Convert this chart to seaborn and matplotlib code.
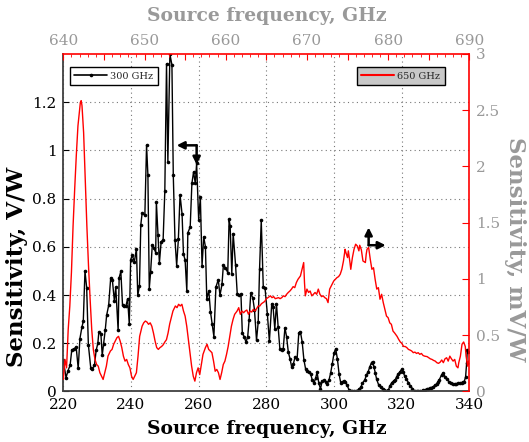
import matplotlib
matplotlib.use("Agg")
import matplotlib.pyplot as plt
import seaborn as sns
from matplotlib.lines import Line2D
from matplotlib.ticker import MultipleLocator

# ---- 300 GHz detector (bottom / left axes) ----
freq_300 = [220.0, 220.8, 221.4, 222.0, 222.5, 223.2, 223.8, 224.4, 224.9, 225.5, 225.9, 226.4, 226.9, 227.4,
            228.1, 228.6, 229.2, 229.7, 230.2, 230.5, 231.1, 231.5, 231.9, 232.4, 232.8, 233.4, 234.0, 234.5,
            235.1, 235.5, 236.2, 236.5, 237.0, 237.5, 238.0, 238.5, 239.0, 239.5, 239.9, 240.4, 241.0, 241.6,
            242.0, 242.5, 242.9, 243.3, 244.1, 244.6, 245.0, 245.4, 245.8, 246.3, 246.8, 247.3, 247.5, 248.0,
            248.4, 248.9, 249.5, 250.0, 250.5, 250.9, 251.5, 252.1, 252.5, 253.0, 253.5, 254.0, 254.5, 255.1,
            255.5, 256.0, 256.5, 256.8, 257.5, 258.0, 258.5, 259.0, 259.4, 260.0, 260.5, 261.0, 261.5, 262.0,
            262.4, 263.0, 263.5, 264.0, 264.5, 265.1, 265.8, 266.3, 266.9, 267.3, 267.9, 268.6, 269.0, 269.3,
            269.8, 270.2, 270.9, 271.4, 272.0, 272.5, 272.9, 273.4, 274.0, 274.5, 274.9, 275.4, 276.0, 276.5,
            277.1, 277.6, 278.0, 278.5, 279.1, 279.6, 280.3, 280.9, 281.6, 282.0, 282.5, 283.0, 283.5, 284.0,
            284.5, 285.0, 285.5, 286.0, 286.5, 287.0, 287.5, 288.0, 288.5, 289.1, 289.6, 290.1, 290.6, 291.1,
            291.6, 292.1, 292.6, 293.1, 293.6, 294.1, 294.6, 295.0, 295.5, 296.0, 296.5, 297.0, 297.5, 298.0,
            298.5, 299.0, 299.5, 300.0, 300.5, 301.0, 301.5, 302.0, 302.4, 302.9, 303.4, 303.9, 304.4, 304.9,
            305.4, 305.9, 306.5, 306.9, 307.4, 307.9, 308.4, 309.1, 309.6, 310.1, 310.6, 311.1, 311.4, 311.8,
            312.2, 312.6, 313.2, 313.8, 314.4, 314.9, 315.5, 316.1, 316.5, 317.1, 317.7, 318.1, 318.5, 319.0,
            319.5, 320.0, 320.4, 320.9, 321.4, 322.0, 322.6, 323.2, 323.8, 324.4, 324.9, 325.4, 325.9, 326.4,
            326.9, 327.4, 327.9, 328.3, 328.8, 329.3, 329.8, 330.3, 330.7, 331.1, 331.8, 332.3, 332.8, 333.3,
            334.0, 334.7, 335.2, 335.7, 336.2, 336.7, 337.2, 337.7, 338.1, 338.5, 338.9, 339.2, 339.4, 339.7]
sens_300 = [0.13, 0.057, 0.087, 0.108, 0.173, 0.177, 0.184, 0.096, 0.219, 0.267, 0.291, 0.50, 0.431, 0.194,
            0.098, 0.094, 0.108, 0.170, 0.20, 0.246, 0.24, 0.15, 0.198, 0.256, 0.316, 0.357, 0.471, 0.461,
            0.374, 0.433, 0.253, 0.472, 0.498, 0.357, 0.354, 0.354, 0.385, 0.278, 0.547, 0.565, 0.537, 0.593,
            0.399, 0.437, 0.692, 0.74, 0.731, 1.022, 0.897, 0.427, 0.496, 0.609, 0.595, 0.576, 0.786, 0.648,
            0.533, 0.62, 0.63, 0.832, 1.359, 0.953, 1.40, 1.354, 0.897, 0.63, 0.522, 0.631, 0.816, 0.735,
            0.572, 0.544, 0.417, 0.658, 0.683, 0.863, 0.911, 0.863, 0.946, 0.713, 0.805, 0.522, 0.641, 0.6,
            0.385, 0.417, 0.33, 0.278, 0.228, 0.433, 0.464, 0.399, 0.445, 0.523, 0.514, 0.493, 0.714, 0.687,
            0.489, 0.655, 0.526, 0.406, 0.399, 0.403, 0.244, 0.228, 0.205, 0.228, 0.295, 0.408, 0.388, 0.339,
            0.212, 0.288, 0.508, 0.71, 0.433, 0.431, 0.323, 0.208, 0.364, 0.35, 0.26, 0.364, 0.267, 0.177,
            0.173, 0.177, 0.265, 0.226, 0.163, 0.136, 0.101, 0.115, 0.143, 0.136, 0.244, 0.246, 0.205, 0.132,
            0.094, 0.087, 0.08, 0.073, 0.046, 0.035, 0.057, 0.08, 0.035, 0.011, 0.043, 0.046, 0.039, 0.032,
            0.046, 0.076, 0.115, 0.159, 0.177, 0.136, 0.073, 0.035, 0.039, 0.043, 0.039, 0.025, 0.008, 0.001,
            0.0, 0.0, 0.002, 0.004, 0.01, 0.017, 0.034, 0.048, 0.069, 0.082, 0.103, 0.12, 0.124, 0.103,
            0.076, 0.051, 0.027, 0.017, 0.009, 0.006, 0.003, 0.006, 0.023, 0.037, 0.045, 0.048, 0.061, 0.073,
            0.082, 0.092, 0.082, 0.064, 0.051, 0.037, 0.023, 0.012, 0.003, 0.001, 0.001, 0.002, 0.003, 0.005,
            0.007, 0.009, 0.011, 0.013, 0.016, 0.02, 0.025, 0.031, 0.04, 0.048, 0.069, 0.078, 0.061, 0.051,
            0.041, 0.034, 0.032, 0.031, 0.032, 0.034, 0.035, 0.037, 0.039, 0.041, 0.061, 0.117, 0.172, 0.165]

# ---- 650 GHz detector (top / right axes) ----
freq_650 = [640.0, 640.2, 640.4, 640.6, 640.8, 641.0, 641.2, 641.4, 641.6, 641.8, 642.1, 642.2, 642.3, 642.5,
            642.7, 642.9, 643.1, 643.3, 643.5, 643.7, 643.9, 644.1, 644.3, 644.5, 644.7, 644.9, 645.1, 645.3,
            645.5, 645.8, 646.0, 646.2, 646.4, 646.6, 646.8, 647.0, 647.2, 647.4, 647.6, 647.8, 648.0, 648.2,
            648.4, 648.6, 648.8, 649.0, 649.2, 649.4, 649.7, 649.9, 650.1, 650.3, 650.5, 650.7, 650.9, 651.1,
            651.3, 651.5, 651.7, 651.9, 652.1, 652.3, 652.5, 652.7, 652.9, 653.1, 653.3, 653.5, 653.8, 654.0,
            654.2, 654.4, 654.6, 654.8, 655.0, 655.2, 655.4, 655.6, 655.8, 656.0, 656.2, 656.4, 656.6, 656.8,
            657.0, 657.2, 657.5, 657.7, 657.9, 658.1, 658.3, 658.5, 658.7, 658.9, 659.1, 659.3, 659.5, 659.7,
            659.9, 660.1, 660.3, 660.5, 660.7, 660.9, 661.1, 661.4, 661.6, 661.8, 662.0, 662.2, 662.4, 662.6,
            662.8, 663.0, 663.2, 663.4, 663.6, 663.8, 664.0, 664.2, 664.4, 664.6, 664.8, 665.0, 665.2, 665.5,
            665.7, 665.9, 666.1, 666.3, 666.5, 666.7, 666.9, 667.1, 667.3, 667.5, 667.7, 667.9, 668.1, 668.3,
            668.5, 668.7, 668.9, 669.2, 669.4, 669.6, 669.7, 669.8, 670.0, 670.2, 670.4, 670.6, 670.8, 671.0,
            671.2, 671.4, 671.6, 671.8, 672.0, 672.2, 672.4, 672.6, 672.8, 673.1, 673.3, 673.5, 673.7, 673.9,
            674.1, 674.3, 674.5, 674.7, 674.8, 675.0, 675.1, 675.3, 675.4, 675.6, 675.8, 676.0, 676.2, 676.4,
            676.5, 676.7, 676.9, 677.2, 677.3, 677.4, 677.6, 677.8, 678.0, 678.2, 678.4, 678.6, 678.8, 679.0,
            679.2, 679.4, 679.6, 679.8, 680.0, 680.2, 680.4, 680.6, 680.8, 681.1, 681.3, 681.5, 681.7, 681.9,
            682.1, 682.3, 682.5, 682.7, 682.9, 683.1, 683.3, 683.5, 683.7, 683.9, 684.1, 684.3, 684.5, 684.8,
            685.0, 685.2, 685.4, 685.6, 685.8, 686.0, 686.2, 686.4, 686.6, 686.8, 687.0, 687.2, 687.4, 687.6,
            687.8, 688.0, 688.2, 688.4, 688.6, 688.7, 688.9, 689.1, 689.3, 689.5, 689.6, 689.8, 689.9]
sens_650 = [0.107, 0.285, 0.21, 0.55, 0.76, 1.06, 1.47, 1.80, 2.10, 2.36, 2.57, 2.585, 2.54, 2.30,
            1.89, 1.47, 1.12, 0.82, 0.55, 0.37, 0.285, 0.24, 0.225, 0.167, 0.136, 0.107, 0.167, 0.225,
            0.314, 0.36, 0.374, 0.42, 0.448, 0.478, 0.49, 0.448, 0.39, 0.314, 0.27, 0.285, 0.24, 0.21,
            0.136, 0.107, 0.136, 0.167, 0.314, 0.49, 0.58, 0.61, 0.626, 0.617, 0.597, 0.61, 0.58, 0.52,
            0.448, 0.39, 0.374, 0.39, 0.40, 0.415, 0.44, 0.46, 0.52, 0.60, 0.656, 0.715, 0.76, 0.745,
            0.775, 0.76, 0.775, 0.715, 0.67, 0.58, 0.46, 0.345, 0.225, 0.136, 0.092, 0.167, 0.21, 0.15,
            0.24, 0.33, 0.39, 0.42, 0.374, 0.36, 0.345, 0.27, 0.18, 0.196, 0.167, 0.107, 0.167, 0.24,
            0.27, 0.33, 0.40, 0.49, 0.58, 0.64, 0.686, 0.715, 0.745, 0.686, 0.715, 0.70, 0.715, 0.724,
            0.686, 0.715, 0.706, 0.73, 0.715, 0.736, 0.76, 0.76, 0.78, 0.79, 0.80, 0.825, 0.834, 0.85,
            0.834, 0.843, 0.825, 0.83, 0.834, 0.825, 0.834, 0.85, 0.843, 0.864, 0.88, 0.893, 0.91, 0.932,
            0.923, 0.968, 0.997, 1.027, 1.086, 1.146, 0.968, 0.85, 0.91, 0.88, 0.893, 0.85, 0.864, 0.88,
            0.864, 0.91, 0.864, 0.843, 0.85, 0.834, 0.825, 0.79, 0.91, 0.953, 0.982, 0.997, 1.012, 1.021,
            1.042, 1.086, 1.16, 1.264, 1.235, 1.19, 1.25, 1.146, 1.086, 1.19, 1.264, 1.309, 1.294, 1.25,
            1.30, 1.26, 1.16, 1.146, 1.22, 1.264, 1.28, 1.175, 1.086, 1.10, 0.997, 0.91, 0.923, 0.82,
            0.864, 0.79, 0.73, 0.67, 0.656, 0.61, 0.597, 0.537, 0.52, 0.49, 0.463, 0.44, 0.427, 0.40,
            0.40, 0.39, 0.374, 0.368, 0.36, 0.345, 0.35, 0.338, 0.345, 0.33, 0.338, 0.32, 0.314, 0.31,
            0.30, 0.29, 0.285, 0.276, 0.27, 0.256, 0.25, 0.26, 0.28, 0.256, 0.29, 0.30, 0.27, 0.314,
            0.29, 0.27, 0.285, 0.225, 0.21, 0.256, 0.314, 0.42, 0.44, 0.40, 0.314, 0.225, 0.27]

# ---- ticks / labels ----
bottom_ticks = [220, 240, 260, 280, 300, 320, 340]
left_ticks = [0, 0.2, 0.4, 0.6, 0.8, 1.0, 1.2]
left_labels = ["0", "0.2", "0.4", "0.6", "0.8", "1", "1.2"]
top_ticks = [640, 645, 650, 655, 660, 665, 670, 675, 680, 685, 690]
top_labels = ["640", "", "650", "", "660", "", "670", "", "680", "", "690"]
right_ticks = [0, 0.5, 1.0, 1.5, 2.0, 2.5, 3.0]
right_labels = ["0", "0.5", "1", "1.5", "2", "2.5", "3"]
legend_labels = ["300 GHz", "650 GHz"]
x_label = "Source frequency, GHz"
y_left_label = "Sensitivity, V/W"
y_right_label = "Sensitivity, mV/W"

# annotation arrows (corner, tips)
black_corner = (259.4, 1.021)
black_tips = [(253.5, 1.021), (259.4, 0.941)]
red_corner = (677.6, 1.30)
red_tips = [(677.6, 1.458), (679.7, 1.30)]

GRAY = "#999999"

sns.set_style("white")
plt.rcParams['font.family'] = ['DejaVu Serif']

fig = plt.figure(figsize=(5.29, 4.42), dpi=100)
ax = fig.add_axes([0.1197, 0.1143, 0.7675, 0.7636])
ax2 = ax.twinx()
ax3 = ax2.twiny()

sns.lineplot(x=freq_300, y=sens_300, ax=ax, color="black", marker="o", markersize=2.6,
             markeredgewidth=0, linewidth=1.0, estimator=None, sort=False)
sns.lineplot(x=freq_650, y=sens_650, ax=ax3, color="red", linewidth=1.0,
             estimator=None, sort=False)

ax.set_xlim(220, 340)
ax.set_ylim(0, 1.4)
ax3.set_xlim(640, 690)
ax2.set_ylim(0, 3)

ax.set_xticks(bottom_ticks)
ax.set_xticklabels([str(t) for t in bottom_ticks])
ax.set_yticks(left_ticks)
ax.set_yticklabels(left_labels)
ax2.set_yticks(right_ticks)
ax2.set_yticklabels(right_labels)
ax3.set_xticks(top_ticks)
ax3.set_xticklabels(top_labels)
ax3.xaxis.set_minor_locator(MultipleLocator(1))

ax.grid(True, linestyle=(0, (1, 3)), color="#777777", linewidth=0.8)

for s in ["top", "right"]:
    ax.spines[s].set_visible(False)
for s in ["left", "bottom"]:
    ax.spines[s].set_color("#404040")
    ax.spines[s].set_linewidth(1.3)
for s in ["left", "bottom", "top"]:
    ax2.spines[s].set_visible(False)
ax2.spines["right"].set_color("red")
ax2.spines["right"].set_linewidth(1.2)
for s in ["left", "bottom", "right"]:
    ax3.spines[s].set_visible(False)
ax3.spines["top"].set_color("red")
ax3.spines["top"].set_linewidth(1.2)

ax.tick_params(axis="both", direction="in", length=4, width=0.8, colors="black",
               labelsize=11, pad=5, top=False, right=False)
ax2.tick_params(axis="y", direction="in", length=5, width=0.8, color="red",
                labelcolor=GRAY, labelsize=11, pad=5)
ax3.tick_params(axis="x", which="major", direction="in", length=4, width=0.8, color="red",
                labelcolor=GRAY, labelsize=11, pad=4)
ax3.tick_params(axis="x", which="minor", direction="in", length=2, width=0.6, color="red")

# labels
ax.set_xlabel(x_label, fontsize=13.5, fontweight="bold", color="black")
ax.xaxis.set_label_coords(0.5, -0.085)
ax3.set_xlabel(x_label, fontsize=13.5, fontweight="bold", color=GRAY)
ax3.xaxis.set_label_coords(0.5, 1.098)
ax.set_ylabel(y_left_label, fontsize=16.5, fontweight="bold", color="black")
ax.yaxis.set_label_coords(-0.086, 0.37)
ax2.set_ylabel(y_right_label, fontsize=16.5, fontweight="bold", color=GRAY, rotation=270)
ax2.yaxis.label.set_verticalalignment("bottom")
ax2.yaxis.set_label_coords(1.085, 0.42)

# legends
h1 = Line2D([], [], color="black", marker="o", markersize=2.6, markeredgewidth=0, linewidth=1.2)
leg1 = ax.legend([h1], [legend_labels[0]], loc="upper left", bbox_to_anchor=(0.0165, 0.96),
                 borderaxespad=0, fontsize=7, frameon=True, fancybox=False, edgecolor="black",
                 facecolor="white", framealpha=1, handlelength=3.4, borderpad=0.45,
                 handletextpad=0.3)
leg1.get_frame().set_linewidth(1.0)
h2 = Line2D([], [], color="red", linewidth=1.5)
leg2 = ax3.legend([h2], [legend_labels[1]], loc="upper right", bbox_to_anchor=(0.939, 0.96),
                  borderaxespad=0, fontsize=7, frameon=True, fancybox=False, edgecolor="black",
                  facecolor="#c8c8c8", framealpha=1, handlelength=3.4, borderpad=0.45,
                  handletextpad=0.3)
leg2.get_frame().set_linewidth(1.0)

arrow_kw = dict(arrowstyle="-|>", color="black", lw=1.8, mutation_scale=11, shrinkA=0, shrinkB=0)
for tip in black_tips:
    ax.annotate("", xy=tip, xytext=black_corner, arrowprops=arrow_kw)
for tip in red_tips:
    ax3.annotate("", xy=tip, xytext=red_corner, arrowprops=arrow_kw)

fig.savefig("out.png", dpi=100)
